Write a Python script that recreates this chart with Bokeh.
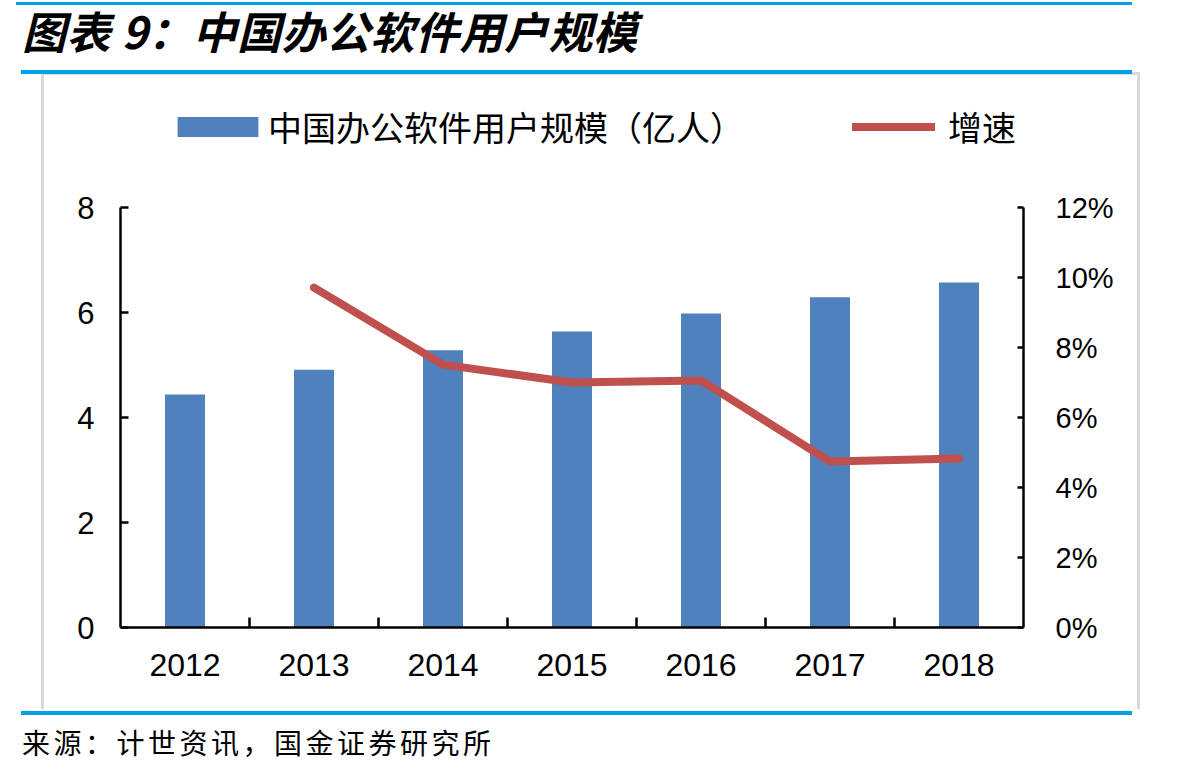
from bokeh.plotting import figure
from bokeh.layouts import column
from bokeh.models import (Range1d, LinearAxis, FixedTicker, PrintfTickFormatter,
                          Legend, LegendItem, ColumnDataSource, Div)
from bokeh.embed import file_html
from bokeh.resources import INLINE

# ---- data ----
years = ["2012", "2013", "2014", "2015", "2016", "2017", "2018"]
users = [4.44, 4.91, 5.28, 5.64, 5.98, 6.29, 6.57]          # 亿人
growth_years = ["2013", "2014", "2015", "2016", "2017", "2018"]
growth = [9.71, 7.51, 7.00, 7.06, 4.74, 4.83]               # %
left_ticks = [0, 2, 4, 6, 8]
right_ticks = [0, 2, 4, 6, 8, 10, 12]

title_text = "图表 9：中国办公软件用户规模"
source_text = "来源：计世资讯，国金证券研究所"
bar_name = "中国办公软件用户规模（亿人）"
line_name = "增速"

BLUE_BAR = "#4F81BD"
RED = "#C0504D"
RULE = "#00A0E6"
GRAY = "#D9D9D9"
NUM_FONT = "Liberation Sans"
CJK = "Noto Sans CJK SC"

W = 1181
TOP_H = 70          # title block
FIG_H = 645         # chart block
BOT_H = 772 - TOP_H - FIG_H

# frame geometry inside the chart block
FR_TOP = 30
FR_BOTTOM_BORDER = 88
FR_H = FIG_H - FR_TOP - FR_BOTTOM_BORDER      # 527
AXIS_PX = 420                                  # pixel height of the 0..8 axis
y_end = left_ticks[-1] * FR_H / AXIS_PX
g_end = right_ticks[-1] * FR_H / AXIS_PX

xpos = {y: i + 1 for i, y in enumerate(years)}

def solid(x, y, w, h, c):
    return f"linear-gradient({c},{c}) {x}px {y}px / {w}px {h}px no-repeat"

host_bg = ", ".join([
    solid(21, 0, 1111, 4, RULE),
    solid(21, FIG_H - 4, 1111, 4, RULE),
    solid(41, 2, 1099, 3, GRAY),
    solid(41, 2, 3, FIG_H - 8, GRAY),
    solid(1137, 2, 3, FIG_H - 8, GRAY),
]) + ", white"

p = figure(width=W, height=FIG_H, output_backend="svg", toolbar_location=None,
           x_range=Range1d(0.5, 7.5), y_range=Range1d(0, y_end),
           min_border_left=120, min_border_right=158,
           min_border_top=FR_TOP, min_border_bottom=FR_BOTTOM_BORDER,
           frame_width=903, frame_height=FR_H,
           styles={"background": host_bg})
p.extra_y_ranges = {"g": Range1d(0, g_end)}
p.xgrid.visible = False
p.ygrid.visible = False
p.outline_line_color = None
p.background_fill_alpha = 0
p.border_fill_alpha = 0

bar_src = ColumnDataSource(dict(x=[xpos[y] for y in years], top=users))
bars = p.vbar(x="x", top="top", width=0.31, bottom=0, source=bar_src,
              fill_color=BLUE_BAR, line_color=None)
line_src = ColumnDataSource(dict(x=[xpos[y] for y in growth_years], y=growth))
ln = p.line(x="x", y="y", source=line_src, y_range_name="g", line_color=RED,
            line_width=8, line_join="round", line_cap="round")

# bottom axis
xa = p.xaxis[0]
xa.ticker = FixedTicker(ticks=[xpos[y] for y in years],
                        minor_ticks=[xpos[y] + 0.5 for y in years[:-1]])
xa.major_label_overrides = {xpos[y]: y for y in years}
xa.major_tick_in = 0
xa.major_tick_out = 0
xa.minor_tick_in = 10
xa.minor_tick_out = 0
xa.minor_tick_line_color = "black"
xa.minor_tick_line_width = 2.5
xa.axis_line_color = "black"
xa.axis_line_width = 2.5
xa.major_label_text_font = NUM_FONT
xa.major_label_text_font_size = "32px"
xa.major_label_text_color = "black"
xa.major_label_standoff = 26

# left axis
ya = p.yaxis[0]
ya.ticker = FixedTicker(ticks=left_ticks)
ya.bounds = (left_ticks[0], left_ticks[-1])
ya.major_tick_in = 8
ya.major_tick_out = 0
ya.minor_tick_line_color = None
ya.major_tick_line_width = 2.5
ya.major_tick_line_color = "black"
ya.axis_line_color = "black"
ya.axis_line_width = 2.5
ya.major_label_text_font = NUM_FONT
ya.major_label_text_font_size = "31px"
ya.major_label_text_color = "black"
ya.major_label_standoff = 26

# right axis
ra = LinearAxis(y_range_name="g", ticker=FixedTicker(ticks=right_ticks),
                formatter=PrintfTickFormatter(format="%d%%"),
                bounds=(right_ticks[0], right_ticks[-1]))
ra.major_tick_in = 6
ra.major_tick_out = 0
ra.minor_tick_line_color = None
ra.major_tick_line_width = 2.5
ra.major_tick_line_color = "black"
ra.axis_line_color = "black"
ra.axis_line_width = 2.5
ra.major_label_text_font = NUM_FONT
ra.major_label_text_font_size = "29px"
ra.major_label_text_color = "black"
ra.major_label_standoff = 32
p.add_layout(ra, "right")

# legends (inside the frame, above the plotted data)
LEG_Y = 476
leg1 = Legend(items=[LegendItem(label=bar_name, renderers=[bars])],
              location=(47, LEG_Y), orientation="horizontal",
              glyph_width=101, glyph_height=25, label_standoff=0,
              padding=0, margin=0, border_line_color=None,
              background_fill_alpha=0,
              label_text_font=CJK, label_text_font_size="34px",
              label_text_color="black")
leg2 = Legend(items=[LegendItem(label=line_name, renderers=[ln])],
              location=(732, LEG_Y), orientation="horizontal",
              glyph_width=83, glyph_height=25, label_standoff=13,
              padding=0, margin=0, border_line_color=None,
              background_fill_alpha=0,
              label_text_font=CJK, label_text_font_size="34px",
              label_text_color="black")
p.add_layout(leg1, "center")
p.add_layout(leg2, "center")

title_div = Div(
    text=(f'<div style="margin:2px 0 0 16px;width:1116px;height:3px;background:{RULE}"></div>'
          f'<div style="margin:0 0 0 22px;font-family:\'{CJK}\';font-size:44px;'
          f'font-weight:bold;font-style:italic;line-height:50px;white-space:nowrap;'
          f'letter-spacing:0.5px;color:black">{title_text}</div>'),
    width=W, height=TOP_H, margin=0)

source_div = Div(
    text=(f'<div style="margin:12px 0 0 22px;font-family:\'{CJK}\';font-size:28px;'
          f'line-height:30px;white-space:nowrap;letter-spacing:3.5px;color:black">'
          f'{source_text}</div>'),
    width=W, height=BOT_H, margin=0)

layout = column(title_div, p, source_div, spacing=0)

open("out.html", "w").write(file_html(layout, INLINE))
